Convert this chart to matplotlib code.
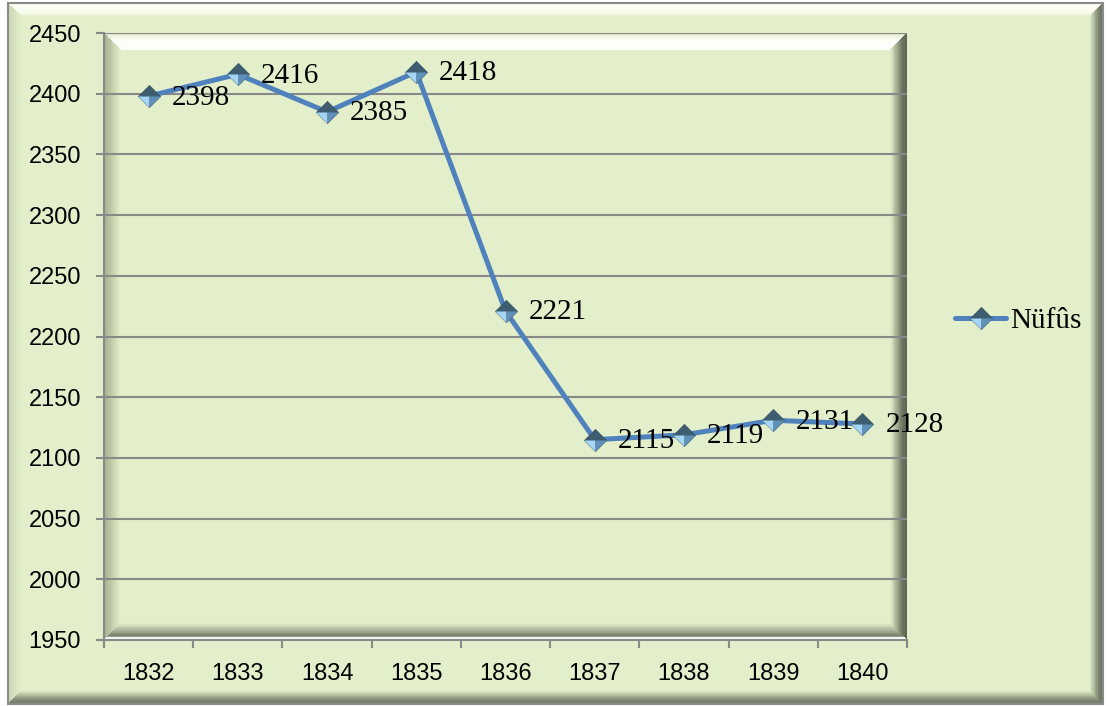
import matplotlib
matplotlib.use("Agg")
import matplotlib.pyplot as plt
import numpy as np
from matplotlib.path import Path
from matplotlib.patches import Polygon, Rectangle
from matplotlib.colors import to_rgb
from matplotlib.legend_handler import HandlerTuple

# ---- data ----
years = ["1832", "1833", "1834", "1835", "1836", "1837", "1838", "1839", "1840"]
population = [2398, 2416, 2385, 2418, 2221, 2115, 2119, 2131, 2128]
series_name = "Nüfûs"
y_ticks = [1950, 2000, 2050, 2100, 2150, 2200, 2250, 2300, 2350, 2400, 2450]

W, H = 1109, 706
BG = "#E2EFCA"
LINE = "#4F81BD"
GRID = "#898989"

fig = plt.figure(figsize=(W / 100, H / 100), dpi=100, facecolor="white")

# background / bevel layer in pixel coordinates
bg = fig.add_axes([0, 0, 1, 1], zorder=0)
bg.set_xlim(0, W)
bg.set_ylim(H, 0)
bg.axis("off")


def interp(stops, t):
    ts = [s[0] for s in stops]
    cs = [np.array(to_rgb(s[1])) for s in stops]
    for i in range(len(ts) - 1):
        if ts[i] <= t <= ts[i + 1]:
            f = (t - ts[i]) / (ts[i + 1] - ts[i]) if ts[i + 1] > ts[i] else 0
            return tuple(cs[i] * (1 - f) + cs[i + 1] * f)
    return tuple(cs[-1])


def bevel(x0, y0, x1, y1, w, stops_by_side, n=24):
    for i in range(n):
        t0, t1 = i / n, (i + 1) / n
        tm = (t0 + t1) / 2
        a, b = t0 * w, t1 * w
        polys = {
            "top": [(x0 + a, y0 + a), (x1 - a, y0 + a), (x1 - b, y0 + b), (x0 + b, y0 + b)],
            "bottom": [(x0 + a, y1 - a), (x1 - a, y1 - a), (x1 - b, y1 - b), (x0 + b, y1 - b)],
            "left": [(x0 + a, y0 + a), (x0 + a, y1 - a), (x0 + b, y1 - b), (x0 + b, y0 + b)],
            "right": [(x1 - a, y0 + a), (x1 - a, y1 - a), (x1 - b, y1 - b), (x1 - b, y0 + b)],
        }
        for side, stops in stops_by_side.items():
            bg.add_patch(Polygon(polys[side], closed=True, facecolor=interp(stops, tm),
                                 edgecolor="none", antialiased=False))


# outer chart area
ox0, oy0, ox1, oy1 = 8, 3, 1103, 704
bg.add_patch(Rectangle((ox0, oy0), ox1 - ox0, oy1 - oy0, facecolor=BG, edgecolor="none"))
bevel(ox0, oy0, ox1, oy1, 14, {
    "top": [(0, "#E6EED6"), (0.2, "#FFFFF6"), (0.75, "#F7FBEC"), (1, BG)],
    "left": [(0, "#C9D5B2"), (1, BG)],
    "right": [(0, "#646A5A"), (0.35, "#7E8672"), (1, BG)],
    "bottom": [(0, "#6A7060"), (0.35, "#848C76"), (1, BG)],
})
bg.add_patch(Rectangle((ox0, oy0), ox1 - ox0, oy1 - oy0, facecolor="none",
                       edgecolor="#8A8A8A", linewidth=1.5))

# plot area bevel
px0, py0, px1, py1 = 104, 33, 907, 640
bevel(px0, py0, px1, py1, 17, {
    "top": [(0, "#D8E4C2"), (0.4, "#FAFDF4"), (1, "#FFFFFF")],
    "left": [(0, "#A2AC8E"), (0.3, "#B6C09F"), (1, BG)],
    "right": [(0, "#5C6252"), (0.3, "#6C7360"), (1, BG)],
    "bottom": [(0, "#FFFFFF"), (0.18, "#FFFFFF"), (0.25, "#6E7664"), (0.5, "#9AA38A"), (1, BG)],
})

# main axes
ax = fig.add_axes([px0 / W, 1 - py1 / H, (px1 - px0) / W, (py1 - py0) / H], zorder=2)
ax.set_facecolor("none")
x = np.arange(len(years))
ax.set_xlim(-0.5, len(years) - 0.5)
ax.set_ylim(1950, 2450)
ax.set_yticks(y_ticks)
ax.yaxis.grid(True, color=GRID, linewidth=1.5)
ax.set_axisbelow(True)

for s in ["top", "right"]:
    ax.spines[s].set_visible(False)
for s in ["left", "bottom"]:
    ax.spines[s].set_color(GRID)
    ax.spines[s].set_linewidth(1.5)

tick_font = dict(family=["Liberation Sans", "DejaVu Sans"], size=17)
ax.set_yticklabels([str(v) for v in y_ticks], fontdict=tick_font)
ax.tick_params(axis="y", length=6, width=1.5, color=GRID, pad=10.5)
ax.set_xticks(x)
ax.set_xticklabels(years, fontdict=tick_font)
ax.tick_params(axis="x", which="major", length=0, pad=16.5)
ax.set_xticks(np.arange(len(years) + 1) - 0.5, minor=True)
ax.tick_params(axis="x", which="minor", length=6, width=1.5, color=GRID)

# markers: pyramid-like diamond
diamond = Path([(-1, 0), (0, 1), (1, 0), (0, -1), (-1, 0)], closed=True)
face_bl = Path([(0, 0), (-1, 0), (0, -1), (0, 0)], closed=True)
face_br = Path([(0, 0), (0, -1), (1, 0), (0, 0)], closed=True)

ms = 16
l0, = ax.plot(x, population, color=LINE, linewidth=3.6, zorder=3, solid_capstyle="round")
m1, = ax.plot(x, population, linestyle="none", marker=diamond, markersize=ms,
              markerfacecolor="#3F5D70", markeredgecolor="#3A5566", markeredgewidth=0.5, zorder=4)
m2, = ax.plot(x, population, linestyle="none", marker=face_bl, markersize=ms,
              markerfacecolor="#A6D6F6", markeredgewidth=0, zorder=5)
m3, = ax.plot(x, population, linestyle="none", marker=face_br, markersize=ms,
              markerfacecolor="#5F90B8", markeredgewidth=0, zorder=5)

label_family = ["Liberation Serif", "DejaVu Serif"]
for xi, v in zip(x, population):
    ax.annotate(str(v), (xi, v), xytext=(16.5, -1), textcoords="offset points",
                ha="left", va="center", family=label_family, fontsize=21,
                zorder=6, annotation_clip=False)

# legend
l_leg = plt.Line2D([], [], color=LINE, linewidth=3.6, solid_capstyle="round")
fig.legend([(l_leg, m1, m2, m3)], [series_name],
           handler_map={tuple: HandlerTuple(ndivide=1, pad=0)},
           loc="center left", bbox_to_anchor=(955 / W, 1 - 321 / H),
           frameon=False, prop=dict(family=label_family, size=21),
           handlelength=1.75, handletextpad=0.15, borderpad=0, borderaxespad=0)

fig.savefig("out.png", dpi=100, facecolor="white")
